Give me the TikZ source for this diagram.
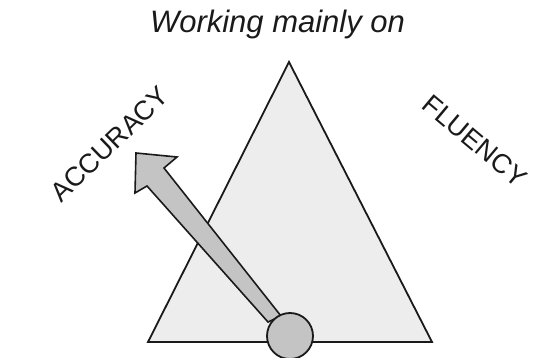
\documentclass[tikz,border=0pt]{standalone}
\usepackage{fontspec}
\setmainfont{Liberation Sans}
\usetikzlibrary{calc}
\definecolor{paper}{HTML}{FFFFFF}
\definecolor{ink}{HTML}{1A1A1A}
\definecolor{lightfill}{HTML}{EDEDED}
\definecolor{darkfill}{HTML}{C4C4C4}
\tikzset{
  sidelabel/.style ={font=\fontsize{13.5}{16}\selectfont, text=ink, inner sep=0pt},
  titlelabel/.style={font=\fontsize{15.5}{18}\selectfont\itshape, text=ink, inner sep=0pt},
  triface/.style   ={draw=ink, fill=lightfill, line width=0.9pt, line join=miter},
  pointer/.style   ={draw=ink, fill=darkfill, line width=0.8pt, line join=miter},
  hubdot/.style    ={draw=ink, fill=darkfill, line width=0.9pt, circle, minimum size=23pt, inner sep=0pt},
}

\begin{document}
\begin{tikzpicture}[x=0.5pt,y=-0.5pt]
    \useasboundingbox[fill=paper] (0,0) rectangle (559,358);

    % triangle
    \coordinate (apex) at (289,62);
    \coordinate (baseL) at (148,342);
    \coordinate (baseR) at (432,342);
    \draw[triface] (apex) -- (baseR) -- (baseL) -- cycle;

    % tapered arrow
    \coordinate (shaftA) at (281,316);
    \coordinate (shaftB) at (164,168);
    \coordinate (barbR) at (177,157);
    \coordinate (tip) at (136,153);
    \coordinate (barbL) at (135,193);
    \coordinate (shaftC) at (147,186);
    \coordinate (shaftD) at (268,322);
    \draw[pointer] (shaftA) -- (shaftB) -- (barbR) -- (tip) -- (barbL) -- (shaftC) -- (shaftD) -- cycle;

    \node[hubdot] (hub) at (290,336) {};

    % labels
    \node[titlelabel,anchor=base] (title) at (277.5,33) {Working mainly on};
    \node[sidelabel,rotate=44] (accuracy) at (110,144) {ACCURACY};
    \node[sidelabel,rotate=-40] (fluency) at (475,141) {FLUENCY};
\end{tikzpicture}
\end{document}
